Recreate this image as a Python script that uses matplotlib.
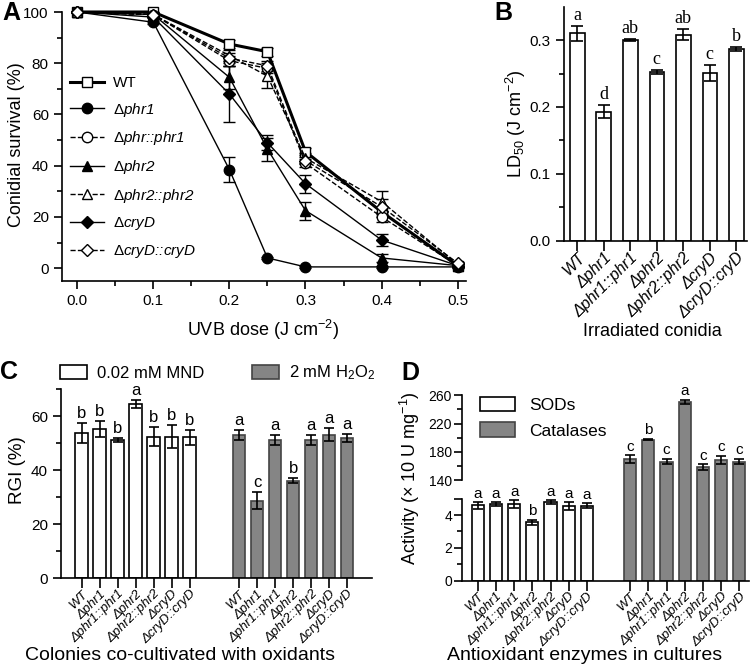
import numpy as np
import matplotlib
matplotlib.use("Agg")
import matplotlib.pyplot as plt
import matplotlib.transforms as mtransforms
from matplotlib.ticker import FixedLocator, NullFormatter

plt.rcParams['font.family'] = ['Liberation Sans', 'DejaVu Sans']
plt.rcParams['mathtext.fontset'] = 'custom'
plt.rcParams['mathtext.rm'] = 'Liberation Sans'
plt.rcParams['mathtext.it'] = 'Liberation Sans:italic'
plt.rcParams['axes.linewidth'] = 1.2

# ---------------- data ----------------
doses = [0.0, 0.1, 0.2, 0.25, 0.3, 0.4, 0.5]
surv_wt = [100, 100, 87.5, 84.5, 45.5, 22, 1]
surv_phr1 = [100, 96, 38.5, 4, 0.5, 0.5, 0.5]
surv_phr1c = [100, 99, 81, 78, 41, 20, 1]
surv_phr2 = [100, 99, 74.5, 46.5, 22.5, 4, 1]
surv_phr2c = [100, 99, 83, 75, 43, 26, 1.5]
surv_cryd = [100, 98, 68, 49, 33, 11, 1]
surv_crydc = [100, 99, 82, 79, 42, 24, 2]
err_wt = [0, 0, 1.5, 1.5, 1.5, 2, 0.5]
err_phr1 = [0, 0.5, 5, 0.5, 0.3, 0.3, 0.3]
err_phr1c = [0, 0.5, 2, 2, 1.5, 2, 0.5]
err_phr2 = [0, 0.5, 4.5, 4.5, 3.5, 1.5, 0.5]
err_phr2c = [0, 0.5, 2, 4.5, 2, 4, 0.5]
err_cryd = [0, 0.5, 11, 3, 3.5, 2.5, 0.5]
err_crydc = [0, 0.5, 2, 2, 1.5, 3, 0.5]
legend_names = ['WT', r'$\Delta$phr1', r'$\Delta$phr::phr1', r'$\Delta$phr2',
                r'$\Delta$phr2::phr2', r'$\Delta$cryD', r'$\Delta$cryD::cryD']

strains = ['WT', 'Δphr1', 'Δphr1::phr1', 'Δphr2', 'Δphr2::phr2', 'ΔcryD', 'ΔcryD::cryD']

ld50 = [0.310, 0.193, 0.300, 0.252, 0.308, 0.251, 0.286]
ld50_err = [0.011, 0.010, 0.001, 0.003, 0.008, 0.012, 0.003]
ld50_letters = ['a', 'd', 'ab', 'c', 'ab', 'c', 'b']

rgi_mnd = [53.8, 55.2, 51.3, 64.6, 52.5, 52.5, 52.2]
rgi_mnd_err = [3.6, 2.9, 0.7, 1.4, 3.4, 4.1, 2.8]
rgi_mnd_letters = ['b', 'b', 'b', 'a', 'b', 'b', 'b']
rgi_h2o2 = [53.1, 28.8, 51.2, 36.2, 51.3, 53.1, 51.9]
rgi_h2o2_err = [1.9, 3.0, 1.9, 0.9, 1.8, 2.4, 1.6]
rgi_h2o2_letters = ['a', 'c', 'a', 'b', 'a', 'a', 'a']

sod = [4.60, 4.68, 4.70, 3.55, 4.78, 4.55, 4.58]
sod_err = [0.20, 0.10, 0.25, 0.18, 0.13, 0.22, 0.14]
sod_letters = ['a', 'a', 'a', 'b', 'a', 'a', 'a']
cat = [169.7, 197.5, 166.5, 250.6, 159.0, 168.5, 166.5]
cat_err = [5.5, 1.0, 4.0, 3.0, 4.0, 6.0, 4.0]
cat_letters = ['c', 'b', 'c', 'a', 'c', 'c', 'c']

W, H = 750, 666
fig = plt.figure(figsize=(7.5, 6.66), dpi=100)


def px_axes(l, t, r, b):
    return fig.add_axes([l / W, 1 - b / H, (r - l) / W, (b - t) / H])


def style_bar_axes(ax):
    ax.spines['top'].set_visible(False)
    ax.spines['right'].set_visible(False)
    ax.tick_params(axis='y', which='major', direction='out', length=6, width=1.2, labelsize=10)
    ax.tick_params(axis='y', which='minor', direction='out', length=3.5, width=1.2)
    ax.tick_params(axis='x', which='major', direction='inout', length=14, width=1.2, pad=0)


# ---------------- Panel A ----------------
axA = px_axes(62, 12, 466, 281)
series = [
    (surv_wt, err_wt, 's', 'white', '-', 2.2),
    (surv_phr1, err_phr1, 'o', 'black', '-', 1.0),
    (surv_phr1c, err_phr1c, 'o', 'white', '--', 1.0),
    (surv_phr2, err_phr2, '^', 'black', '-', 1.0),
    (surv_phr2c, err_phr2c, '^', 'white', '--', 1.0),
    (surv_cryd, err_cryd, 'D', 'black', '-', 1.0),
    (surv_crydc, err_crydc, 'D', 'white', '--', 1.0),
]
handles = []
for (vals, errs, mk, fc, ls, lw), name in zip(series, legend_names):
    ms = 6 if mk == 'D' else 7.5
    axA.errorbar(doses, vals, yerr=errs, fmt='none', ecolor='black', elinewidth=1,
                 capsize=4, capthick=1, clip_on=False, zorder=2)
    h, = axA.plot(doses, vals, marker=mk, markersize=ms, markerfacecolor=fc,
                  markeredgecolor='black', markeredgewidth=1, color='black',
                  linestyle=ls, linewidth=lw, clip_on=False, label=name, zorder=3)
    handles.append(h)
axA.set_xlim(-0.02, 0.511)
axA.set_ylim(-5, 100)
axA.set_xticks([0.0, 0.1, 0.2, 0.3, 0.4, 0.5])
axA.set_xticks(np.arange(0.05, 0.5, 0.1), minor=True)
axA.set_yticks([0, 20, 40, 60, 80, 100])
axA.set_yticks([10, 30, 50, 70, 90], minor=True)
axA.spines['top'].set_visible(False)
axA.spines['right'].set_visible(False)
axA.tick_params(which='major', direction='out', length=6, width=1.2, labelsize=11)
axA.tick_params(which='minor', direction='out', length=3.5, width=1.2)
legA = axA.legend(handles=handles, loc='upper left', bbox_to_anchor=(0.005, 0.785),
                  frameon=False, fontsize=11, handlelength=2.2, handletextpad=0.6,
                  labelspacing=0.7, borderaxespad=0)
for t in legA.get_texts()[1:]:
    t.set_fontstyle('italic')

# ---------------- Panel B ----------------
axB = px_axes(564, 6.7, 747, 240.7)
xb = np.arange(len(ld50))
axB.bar(xb, ld50, width=0.55, color='white', edgecolor='black', linewidth=1.2, zorder=2)
axB.errorbar(xb, ld50, yerr=ld50_err, fmt='none', ecolor='black', elinewidth=1.2,
             capsize=4, capthick=1.2, zorder=3)
for x, v, e, lt in zip(xb, ld50, ld50_err, ld50_letters):
    axB.text(x, v + e + 0.003, lt, ha='center', va='bottom', fontsize=13,
             family='Liberation Serif')
axB.set_xlim(-0.5, 6.4)
axB.set_ylim(0, 0.35)
axB.set_yticks([0.0, 0.1, 0.2, 0.3])
axB.set_yticks([0.05, 0.15, 0.25], minor=True)
axB.yaxis.set_major_formatter(plt.FuncFormatter(lambda v, p: f"{v:.1f}"))
axB.set_xticks(xb)
axB.set_xticklabels(strains, rotation=45, ha='right', va='top', rotation_mode='anchor',
                    fontsize=11.5, fontstyle='italic')
style_bar_axes(axB)
axB.tick_params(axis='y', labelsize=11)

# ---------------- Panel C ----------------
axC = px_axes(61, 389.3, 372, 578.3)
offC = 8.75
xc1 = np.arange(7)
xc2 = np.arange(7) + offC
axC.bar(xc1, rgi_mnd, width=0.7, color='white', edgecolor='black', linewidth=1.2, zorder=2)
axC.bar(xc2, rgi_h2o2, width=0.7, color='#858585', edgecolor='#444444', linewidth=1.2, zorder=2)
axC.errorbar(xc1, rgi_mnd, yerr=rgi_mnd_err, fmt='none', ecolor='black', elinewidth=1.2,
             capsize=3.5, capthick=1.2, zorder=3)
axC.errorbar(xc2, rgi_h2o2, yerr=rgi_h2o2_err, fmt='none', ecolor='black', elinewidth=1.2,
             capsize=3.5, capthick=1.2, zorder=3)
for xs, vals, errs, lets in [(xc1, rgi_mnd, rgi_mnd_err, rgi_mnd_letters),
                             (xc2, rgi_h2o2, rgi_h2o2_err, rgi_h2o2_letters)]:
    for x, v, e, lt in zip(xs, vals, errs, lets):
        axC.text(x, v + e + 0.8, lt, ha='center', va='bottom', fontsize=12)
axC.set_xlim(-1.15, 16.13)
axC.set_ylim(0, 70)
axC.set_yticks([0, 20, 40, 60])
axC.set_yticks([10, 30, 50, 70], minor=True)
axC.set_xticks(np.concatenate([xc1, xc2]))
axC.set_xticklabels(strains + strains, rotation=45, ha='right', va='top',
                    rotation_mode='anchor', fontsize=9.5, fontstyle='italic')
style_bar_axes(axC)
axC.tick_params(axis='y', labelsize=11)
fig.legend(handles=[plt.Rectangle((0, 0), 1, 1, fc='white', ec='black', lw=1.2),
                    plt.Rectangle((0, 0), 1, 1, fc='#858585', ec='#444444', lw=1.2)],
           labels=['0.02 mM MND', r'2 mM H$_2$O$_2$'], ncol=2, frameon=False,
           loc='center left', bbox_to_anchor=(60 / W, 1 - 373 / H), fontsize=12,
           handlelength=1.6, handleheight=0.9, handletextpad=0.6, columnspacing=2.9,
           borderaxespad=0, borderpad=0)

# ---------------- Panel D (broken axis) ----------------
brk_v = [0, 5, 140, 300]
brk_p = [0, 82, 100.4, 100.4 + 160 * 0.708]


def fwd(v):
    return np.interp(v, brk_v, brk_p)


def inv(p):
    return np.interp(p, brk_p, brk_v)


axD = px_axes(461.7, 395.3, 749, 580.7)
axD.set_yscale('function', functions=(fwd, inv))
offD = 8.37
xd1 = np.arange(7)
xd2 = np.arange(7) + offD
axD.bar(xd1, sod, width=0.67, color='white', edgecolor='black', linewidth=1.2, zorder=2)
axD.bar(xd2, cat, width=0.67, color='#858585', edgecolor='#444444', linewidth=1.2, zorder=2)
axD.errorbar(xd1, sod, yerr=sod_err, fmt='none', ecolor='black', elinewidth=1.2,
             capsize=3.5, capthick=1.2, zorder=3)
axD.errorbar(xd2, cat, yerr=cat_err, fmt='none', ecolor='black', elinewidth=1.2,
             capsize=3.5, capthick=1.2, zorder=3)
for x, v, e, lt in zip(xd1, sod, sod_err, sod_letters):
    axD.text(x, v + e + 0.08, lt, ha='center', va='bottom', fontsize=11)
for x, v, e, lt in zip(xd2, cat, cat_err, cat_letters):
    axD.text(x, v + e + 2, lt, ha='center', va='bottom', fontsize=11)
axD.set_xlim(-0.88, 14.9)
axD.set_ylim(0, 260)
axD.yaxis.set_major_locator(FixedLocator([0, 2, 4, 5, 140, 180, 220, 260]))
axD.yaxis.set_major_formatter(plt.FixedFormatter(['0', '2', '4', '', '140', '180', '220', '260']))
axD.yaxis.set_minor_locator(FixedLocator([1, 3, 160, 200, 240]))
axD.yaxis.set_minor_formatter(NullFormatter())
axD.set_xticks(np.concatenate([xd1, xd2]))
axD.set_xticklabels(strains + strains, rotation=45, ha='right', va='top',
                    rotation_mode='anchor', fontsize=9.5, fontstyle='italic')
style_bar_axes(axD)
axD.tick_params(axis='y', labelsize=10, pad=1)
axD.spines['left'].set_visible(False)
tr = mtransforms.blended_transform_factory(axD.transAxes, axD.transData)
axD.plot([0, 0], [0, 5], color='black', lw=1.2, transform=tr, clip_on=False, zorder=4)
axD.plot([0, 0], [140, 260], color='black', lw=1.2, transform=tr, clip_on=False, zorder=4)
axD.legend(handles=[plt.Rectangle((0, 0), 1, 1, fc='white', ec='black', lw=1.2),
                    plt.Rectangle((0, 0), 1, 1, fc='#858585', ec='#444444', lw=1.2)],
           labels=['SODs', 'Catalases'], frameon=False, loc='upper left',
           bbox_to_anchor=(0.04, 1.03), fontsize=12.5, handlelength=2.0, handleheight=0.9,
           handletextpad=0.8, labelspacing=0.55, borderaxespad=0)

# ---------------- labels ----------------
fig.text(2 / W, 1 - 1 / H, 'A', fontsize=18, fontweight='bold', va='top', ha='left')
fig.text(494 / W, 1 - 1 / H, 'B', fontsize=18, fontweight='bold', va='top', ha='left')
fig.text(0 / W, 1 - 372 / H, 'C', fontsize=18, fontweight='bold', va='center', ha='left')
fig.text(401 / W, 1 - 373 / H, 'D', fontsize=18, fontweight='bold', va='center', ha='left')

fig.text(263 / W, 1 - 330 / H, r'UVB dose (J cm$^{-2}$)', fontsize=13, ha='center', va='center')
fig.text(652 / W, 1 - 332 / H, 'Irradiated conidia', fontsize=13, ha='center', va='center')
fig.text(180 / W, 1 - 655 / H, 'Colonies co-cultivated with oxidants', fontsize=14,
         ha='center', va='center')
fig.text(585 / W, 1 - 655 / H, 'Antioxidant enzymes in cultures', fontsize=14,
         ha='center', va='center')

fig.text(17 / W, 1 - 145 / H, 'Conidial survival (%)', fontsize=13, rotation=90,
         ha='center', va='center')
fig.text(516 / W, 1 - 124 / H, r'LD$_{50}$ (J cm$^{-2}$)', fontsize=13, rotation=90,
         ha='center', va='center')
fig.text(17 / W, 1 - 470 / H, 'RGI (%)', fontsize=13.5, rotation=90, ha='center', va='center')
fig.text(410 / W, 1 - 478 / H, r'Activity ($\times$ 10 U mg$^{-1}$)', fontsize=13,
         rotation=90, ha='center', va='center')

fig.savefig('out.png', dpi=100)
